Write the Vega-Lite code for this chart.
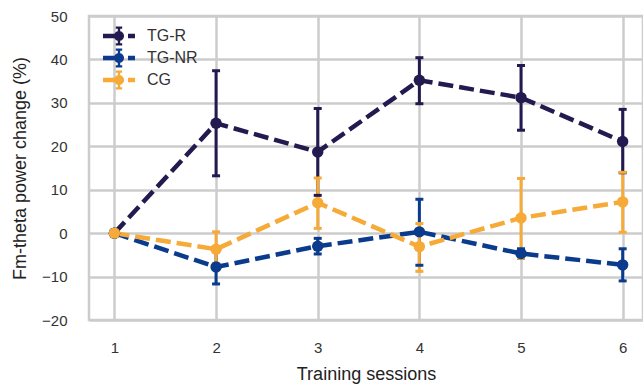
{
  "$schema": "https://vega.github.io/schema/vega-lite/v6.json",
  "autosize": "none",
  "width": 554,
  "height": 304,
  "padding": {"left": 89, "top": 16, "right": 0, "bottom": 68},
  "background": "white",
  "config": {
    "font": "Liberation Sans",
    "view": {"stroke": "#cccccc", "strokeWidth": 2.5},
    "axis": {
      "gridColor": "#cccccc", "gridWidth": 2.5, "gridOpacity": 1,
      "domain": false, "ticks": false,
      "labelFontSize": 15, "labelColor": "#333333",
      "titleFontSize": 18, "titleFontWeight": "normal", "titleColor": "#222222"
    }
  },
  "data": {"values": [
    {"session": 1, "group": "TG-R", "mean": 0, "lo": null, "hi": null},
    {"session": 2, "group": "TG-R", "mean": 25.3, "lo": 13.2, "hi": 37.4},
    {"session": 3, "group": "TG-R", "mean": 18.7, "lo": 8.7, "hi": 28.7},
    {"session": 4, "group": "TG-R", "mean": 35.2, "lo": 29.8, "hi": 40.4},
    {"session": 5, "group": "TG-R", "mean": 31.2, "lo": 23.7, "hi": 38.6},
    {"session": 6, "group": "TG-R", "mean": 21.1, "lo": 13.9, "hi": 28.5},
    {"session": 1, "group": "TG-NR", "mean": 0, "lo": null, "hi": null},
    {"session": 2, "group": "TG-NR", "mean": -7.8, "lo": -11.7, "hi": -3.8},
    {"session": 3, "group": "TG-NR", "mean": -3.0, "lo": -4.8, "hi": -1.2},
    {"session": 4, "group": "TG-NR", "mean": 0.3, "lo": -7.4, "hi": 7.8},
    {"session": 5, "group": "TG-NR", "mean": -4.7, "lo": -5.8, "hi": -3.6},
    {"session": 6, "group": "TG-NR", "mean": -7.3, "lo": -11.0, "hi": -3.6},
    {"session": 1, "group": "CG", "mean": 0, "lo": null, "hi": null},
    {"session": 2, "group": "CG", "mean": -3.7, "lo": -7.0, "hi": 0.3},
    {"session": 3, "group": "CG", "mean": 7.0, "lo": 1.1, "hi": 12.7},
    {"session": 4, "group": "CG", "mean": -3.1, "lo": -8.8, "hi": 2.2},
    {"session": 5, "group": "CG", "mean": 3.5, "lo": -5.8, "hi": 12.6},
    {"session": 6, "group": "CG", "mean": 7.2, "lo": 0.2, "hi": 14.0}
  ]},
  "encoding": {
    "x": {
      "field": "session", "type": "quantitative",
      "scale": {"domain": [0.75, 6.2], "nice": false, "zero": false},
      "axis": {"values": [1, 2, 3, 4, 5, 6], "title": "Training sessions", "labelPadding": 20, "titlePadding": 10}
    },
    "color": {
      "field": "group", "type": "nominal",
      "scale": {"domain": ["TG-R", "TG-NR", "CG"], "range": ["#231a50", "#0b3b8c", "#f6aa38"]},
      "legend": {
        "title": null,
        "orient": "none", "legendX": 20, "legendY": 10,
        "padding": 0, "rowPadding": 2,
        "symbolSize": 400,
        "symbolType": "M-1.6,-0.22H-0.3V0.22H-1.6Z M0.9,-0.22H1.6V0.22H0.9Z M-0.5,0A0.5,0.5 0 1,1 0.5,0A0.5,0.5 0 1,1 -0.5,0Z M-0.12,-0.9H0.12V0.9H-0.12Z M-0.32,-0.95H0.32V-0.72H-0.32Z M-0.32,0.72H0.32V0.95H-0.32Z",
        "symbolFillColor": "#000000",
        "symbolStrokeWidth": 0, "symbolOpacity": 1,
        "labelFontSize": 16, "labelColor": "#333333", "labelOffset": 18
      }
    }
  },
  "layer": [
    {
      "mark": {"type": "rule", "strokeWidth": 3},
      "encoding": {
        "y": {"field": "lo", "type": "quantitative"},
        "y2": {"field": "hi"}
      }
    },
    {
      "mark": {"type": "tick", "orient": "horizontal", "size": 8, "thickness": 3, "opacity": 1},
      "encoding": {
        "y": {"field": "lo", "type": "quantitative"}
      }
    },
    {
      "mark": {"type": "tick", "orient": "horizontal", "size": 8, "thickness": 3, "opacity": 1},
      "encoding": {
        "y": {"field": "hi", "type": "quantitative"}
      }
    },
    {
      "mark": {"type": "line", "strokeWidth": 4.5, "strokeDash": [15, 6]},
      "encoding": {
        "y": {"field": "mean", "type": "quantitative"}
      }
    },
    {
      "mark": {"type": "point", "filled": true, "opacity": 1, "size": 130},
      "encoding": {
        "y": {
          "field": "mean", "type": "quantitative",
          "scale": {"domain": [-20, 50], "nice": false},
          "axis": {"values": [-20, -10, 0, 10, 20, 30, 40, 50], "title": "Fm-theta power change (%)", "labelPadding": 22, "titlePadding": 12}
        }
      }
    }
  ]
}
